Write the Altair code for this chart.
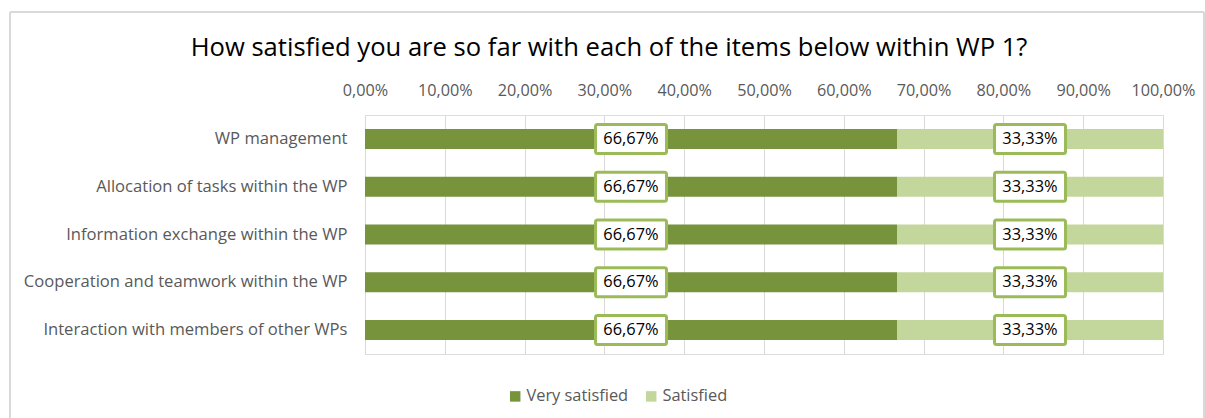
import altair as alt
import pandas as pd

categories = [
    "WP management",
    "Allocation of tasks within the WP",
    "Information exchange within the WP",
    "Cooperation and teamwork within the WP",
    "Interaction with members of other WPs",
]
series_names = ["Very satisfied", "Satisfied"]
very_satisfied = [0.6667, 0.6667, 0.6667, 0.6667, 0.6667]
satisfied = [0.3333, 0.3333, 0.3333, 0.3333, 0.3333]
colors = ["#77933C", "#C3D69B"]
x_ticks = [0, 0.1, 0.2, 0.3, 0.4, 0.5, 0.6, 0.7, 0.8, 0.9, 1.0]

rows = []
for i, c in enumerate(categories):
    start = 0.0
    for j, (name, vals) in enumerate(zip(series_names, [very_satisfied, satisfied])):
        v = vals[i]
        rows.append({
            "category": c,
            "series": name,
            "order": j,
            "value": v,
            "start": start,
            "end": start + v,
            "mid": start + v / 2,
            "label": f"{v*100:.2f}%".replace(".", ","),
        })
        start += v
df = pd.DataFrame(rows)

FONT = "Open Sans"
FS_Y = 16.6
FS_X = 16.2
FS_LBL = 16.4
W, H = 798, 239

y_enc = alt.Y("category:N", sort=categories, title=None,
              scale=alt.Scale(paddingInner=0.58, paddingOuter=0.29),
              axis=alt.Axis(labelFontSize=FS_Y, labelColor="#595959", labelFont=FONT,
                            labelPadding=18, labelLimit=500, domain=False, ticks=False,
                            grid=False))

bars = alt.Chart(df).mark_bar(size=20).encode(
    x=alt.X("start:Q", scale=alt.Scale(domain=[0, 1]), title=None,
            axis=alt.Axis(orient="top", values=x_ticks,
                          labelExpr="replace(format(datum.value, '.2%'), '.', ',')",
                          labelFontSize=FS_X, labelColor="#595959", labelFont=FONT,
                          labelPadding=17, labelOverlap=False, labelFlush=False,
                          domain=False, ticks=False,
                          grid=True, gridColor="#D9D9D9", gridWidth=1)),
    x2="end:Q",
    y=y_enc,
    color=alt.Color("series:N", sort=series_names,
                    scale=alt.Scale(domain=series_names, range=colors),
                    legend=alt.Legend(title=None, orient="none", direction="horizontal",
                                      legendX=142, legendY=273,
                                      symbolType="square", symbolSize=110,
                                      symbolStrokeWidth=0, labelOffset=3,
                                      labelFontSize=FS_LBL, labelColor="#595959",
                                      labelFont=FONT, columnPadding=14,
                                      symbolOpacity=1)),
    order=alt.Order("order:Q"),
)

boxes = alt.Chart(df).mark_rect(width=71, height=29, fill="white", stroke="#9BBB59",
                                strokeWidth=3, cornerRadius=2).encode(
    x=alt.X("mid:Q"),
    y=alt.Y("category:N", sort=categories),
)

labels = alt.Chart(df).mark_text(fontSize=FS_LBL, font=FONT, color="#000000").encode(
    x=alt.X("mid:Q"),
    y=alt.Y("category:N", sort=categories),
    text="label:N",
)

frame = alt.Chart(df).mark_rect(fill=None, stroke="#D9D9D9", strokeWidth=1).encode(
    x=alt.value(-355), x2=alt.value(839), y=alt.value(-103), y2=alt.value(320)
)

chart = alt.layer(frame, bars, boxes, labels).properties(
    width=W, height=H,
    autosize=alt.AutoSizeParams(type="none"),
    padding={"left": 365, "top": 115, "right": 42, "bottom": 64},
    title=alt.TitleParams(
        "How satisfied you are so far with each of the items below within WP 1?",
        fontSize=25.6, font=FONT, fontWeight="normal", color="#000000",
        anchor="middle", dx=-155, offset=-50),
).configure_view(stroke=None).configure(background="white")

chart.save("out.html", embed_options={"renderer": "svg", "actions": False})
